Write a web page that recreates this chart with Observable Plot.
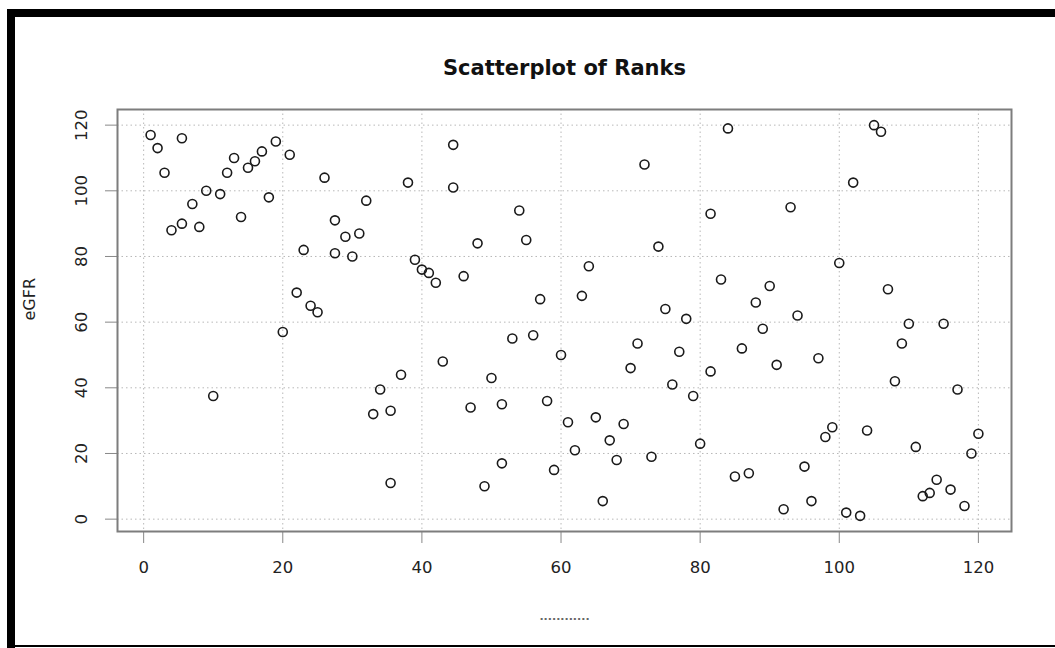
<!DOCTYPE html>
<html>
<head>
<meta charset="utf-8">
<script src="https://cdn.jsdelivr.net/npm/d3@7"></script>
<script src="https://cdn.jsdelivr.net/npm/@observablehq/plot@0.6"></script>
<style>
  html, body { margin: 0; padding: 0; background: #fff; }
  #wrap { position: relative; width: 1055px; height: 648px; overflow: hidden; background: #fff; }
  #chart { position: absolute; left: 0; top: 0; }
  .edge { position: absolute; background: #000; }
</style>
</head>
<body>
<div id="wrap">
  <div id="chart"></div>
  <div class="edge" style="left:7px; top:9px; width:1048px; height:8px;"></div>
  <div class="edge" style="left:7px; top:9px; width:8px; height:639px;"></div>
  <div class="edge" style="left:7px; top:645px; width:1048px; height:2px;"></div>
</div>
<script>
// Rank of each subject (x) against the rank of its eGFR (y); ties share mid-ranks.
const rankX = [
  1, 2, 3, 4, 5.5, 5.5, 7, 8, 9, 10,
  11, 12, 13, 14, 15, 16, 17, 18, 19, 20,
  21, 22, 23, 24, 25, 26, 27.5, 27.5, 29, 30,
  31, 32, 33, 34, 35.5, 35.5, 37, 38, 39, 40,
  41, 42, 43, 44.5, 44.5, 46, 47, 48, 49, 50,
  51.5, 51.5, 53, 54, 55, 56, 57, 58, 59, 60,
  61, 62, 63, 64, 65, 66, 67, 68, 69, 70,
  71, 72, 73, 74, 75, 76, 77, 78, 79, 80,
  81.5, 81.5, 83, 84, 85, 86, 87, 88, 89, 90,
  91, 92, 93, 94, 95, 96, 97, 98, 99, 100,
  101, 102, 103, 104, 105, 106, 107, 108, 109, 110,
  111, 112, 113, 114, 115, 116, 117, 118, 119, 120
];
const rankY = [
  117, 113, 105.5, 88, 116, 90, 96, 89, 100, 37.5,
  99, 105.5, 110, 92, 107, 109, 112, 98, 115, 57,
  111, 69, 82, 65, 63, 104, 91, 81, 86, 80,
  87, 97, 32, 39.5, 33, 11, 44, 102.5, 79, 76,
  75, 72, 48, 114, 101, 74, 34, 84, 10, 43,
  35, 17, 55, 94, 85, 56, 67, 36, 15, 50,
  29.5, 21, 68, 77, 31, 5.5, 24, 18, 29, 46,
  53.5, 108, 19, 83, 64, 41, 51, 61, 37.5, 23,
  93, 45, 73, 119, 13, 52, 14, 66, 58, 71,
  47, 3, 95, 62, 16, 5.5, 49, 25, 28, 78,
  2, 102.5, 1, 27, 120, 118, 70, 42, 53.5, 59.5,
  22, 7, 8, 12, 59.5, 9, 39.5, 4, 20, 26
];
const xTicks = [0, 20, 40, 60, 80, 100, 120];
const yTicks = [0, 20, 40, 60, 80, 100, 120];
const titleText = "Scatterplot of Ranks";
const yTitle = "eGFR";
const xTitle = "............";

const points = rankX.map((x, i) => ({x, y: rankY[i]}));

// Pad each range by 4% on both sides, as base graphics does.
function padded(values) {
  const [lo, hi] = d3.extent(values);
  const p = (hi - lo) * 0.04;
  return [lo - p, hi + p];
}

const chart = Plot.plot({
  width: 1055,
  height: 648,
  marginLeft: 117,
  marginRight: 44,
  marginTop: 109,
  marginBottom: 117,
  style: { fontFamily: "DejaVu Sans", background: "transparent", color: "#222" },
  x: { domain: padded(rankX) },
  y: { domain: padded(rankY) },
  marks: [
    Plot.gridX(xTicks, { stroke: "#b8b8b8", strokeOpacity: 1, strokeDasharray: "1.5,3" }),
    Plot.gridY(yTicks, { stroke: "#b8b8b8", strokeOpacity: 1, strokeDasharray: "1.5,3" }),
    Plot.axisX(xTicks, { tickSize: 12, tickPadding: 18, fontSize: 16.5, stroke: "#888", fill: "#222", label: null }),
    Plot.axisY(yTicks, { tickSize: 12, tickPadding: 19, tickRotate: -90, fontSize: 16.5, stroke: "#888", fill: "#222", label: null }),
    Plot.frame({ stroke: "#7d7d7d", strokeWidth: 2 }),
    Plot.dot(points, { x: "x", y: "y", r: 4.5, stroke: "#1a1a1a", strokeWidth: 1.6, fill: "none" }),
    Plot.text([titleText], { frameAnchor: "top", lineAnchor: "middle", dy: -41, fontSize: 21, fontWeight: "bold", fill: "#111" }),
    Plot.text([yTitle], { frameAnchor: "left", lineAnchor: "middle", dx: -88, rotate: -90, fontSize: 16, fill: "#222" }),
    Plot.text([xTitle], { frameAnchor: "bottom", lineAnchor: "middle", dy: 85, fontSize: 11, fill: "#666", fontWeight: "bold" })
  ]
});
document.getElementById("chart").append(chart);
</script>
</body>
</html>
